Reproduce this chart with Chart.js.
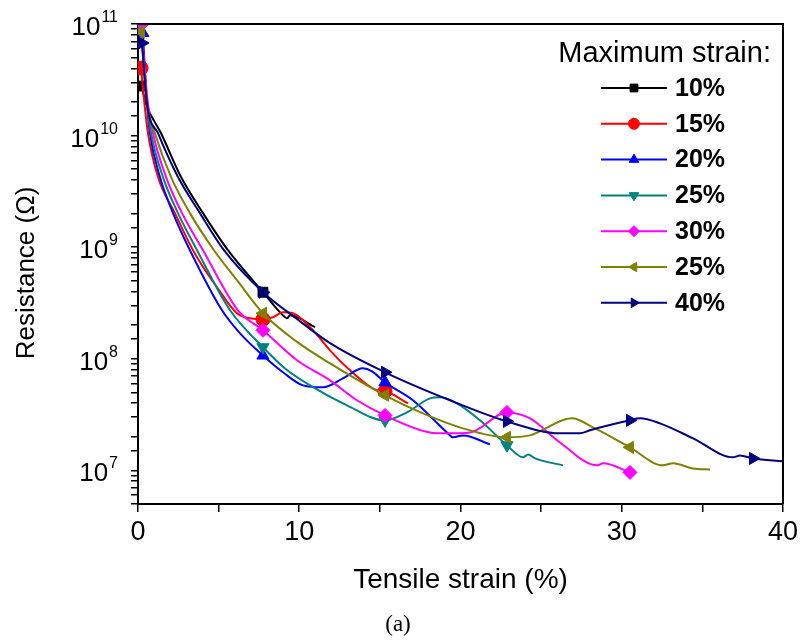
<!DOCTYPE html>
<html>
<head>
<meta charset="utf-8">
<script src="https://cdn.jsdelivr.net/npm/chart.js@4.4.0/dist/chart.umd.min.js"></script>
<style>
  html, body { margin: 0; padding: 0; background: #fff; }
  #wrap { width: 802px; height: 641px; }
</style>
</head>
<body>
<div id="wrap"><canvas id="chart" width="802" height="641"></canvas></div>
<script>
// Data (strain in %, resistance in ohm)
const strain10 = [0.22, 0.50, 1.43, 2.67, 4.03, 5.58, 7.75, 8.99, 9.24, 9.43, 10.98];
const res10    = [2.78e10, 1.92e10, 1.05e10, 4.25e9, 2.02e9, 9.4e8, 3.95e8, 2.45e8, 2.31e8, 2.45e8, 1.92e8];

const strain15 = [0.19, 0.43, 0.62, 1.24, 2.29, 3.41, 4.90, 6.33, 7.75, 8.37, 8.99, 9.61, 10.85, 11.91, 13.15, 14.82, 15.32, 16.74];
const res15    = [4.03e10, 1.76e10, 1.05e10, 4.25e9, 2.02e9, 9.4e8, 4.38e8, 2.45e8, 2.26e8, 2.36e8, 2.61e8, 2.56e8, 1.80e8, 1.19e8, 7.89e7, 5.22e7, 5.11e7, 3.99e7];

const strain20 = [0.30, 0.56, 0.74, 1.36, 2.17, 3.22, 5.21, 6.33, 7.75, 8.99, 10.23, 11.47, 12.71, 13.95, 14.51, 15.32, 17.05, 19.16, 19.53, 20.16, 21.83];
const res20    = [8.3e10, 1.92e10, 1.05e10, 4.25e9, 2.02e9, 9.4e8, 2.72e8, 1.69e8, 1.07e8, 7.57e7, 5.78e7, 5.55e7, 6.68e7, 8.22e7, 7.73e7, 6.15e7, 4.25e7, 2.19e7, 1.98e7, 2.06e7, 1.71e7];

const strain25 = [0.19, 0.56, 0.81, 1.55, 2.48, 3.66, 5.71, 7.75, 9.12, 10.67, 12.96, 15.32, 16.68, 18.11, 18.73, 19.78, 21.21, 22.88, 23.88, 24.19, 24.62, 26.36];
const res25    = [9.4e10, 1.92e10, 1.05e10, 4.25e9, 2.02e9, 9.4e8, 2.72e8, 1.27e8, 8.2e7, 5.78e7, 3.83e7, 2.81e7, 3.31e7, 4.42e7, 4.52e7, 3.99e7, 2.81e7, 1.68e7, 1.31e7, 1.39e7, 1.28e7, 1.11e7];

const strain30 = [0.19, 0.62, 0.93, 1.74, 2.73, 4.03, 6.20, 7.75, 9.86, 11.91, 13.58, 15.32, 18.11, 19.16, 20.59, 22.88, 24.31, 26.17, 28.47, 28.84, 30.51];
const res30    = [9.8e10, 1.92e10, 1.05e10, 4.25e9, 2.02e9, 9.4e8, 2.72e8, 1.80e8, 9.7e7, 6.41e7, 4.25e7, 3.11e7, 2.19e7, 2.15e7, 2.19e7, 3.31e7, 2.93e7, 1.78e7, 1.11e7, 1.16e7, 9.6e6];

const strain35 = [0.19, 0.56, 1.05, 2.05, 3.22, 4.71, 6.14, 7.75, 9.80, 11.91, 15.32, 17.67, 20.16, 22.88, 24.31, 26.91, 28.22, 30.51, 32.56, 33.18, 34.42, 35.47];
const res35    = [8.5e10, 1.92e10, 1.05e10, 4.25e9, 2.02e9, 9.4e8, 5.06e8, 2.56e8, 1.44e8, 9.1e7, 4.71e7, 3.24e7, 2.38e7, 1.98e7, 2.06e7, 2.93e7, 2.43e7, 1.61e7, 1.11e7, 1.16e7, 1.04e7, 1.02e7];

const strain40 = [0.25, 0.56, 1.24, 2.48, 3.84, 5.33, 7.75, 9.80, 11.91, 15.32, 19.35, 22.88, 26.17, 27.41, 28.03, 30.51, 31.13, 32.37, 34.42, 36.90, 37.33, 38.14, 40.0];
const res40    = [6.76e10, 1.92e10, 1.05e10, 4.25e9, 2.02e9, 9.4e8, 3.95e8, 2.31e8, 1.38e8, 7.57e7, 4.25e7, 2.75e7, 2.15e7, 2.15e7, 2.29e7, 2.81e7, 2.93e7, 2.64e7, 1.94e7, 1.31e7, 1.36e7, 1.28e7, 1.21e7];

// symbols sit on the first point and at these strains
const markerStrains = [7.75, 15.32, 22.88, 30.51, 38.14];

const seriesLabels = ['10%', '15%', '20%', '25%', '30%', '25%', '40%'];
const seriesColors = ['#000000', '#ff0000', '#0000ff', '#008080', '#ff00ff', '#808000', '#000080'];
const seriesStyles = ['rect', 'circle', 'triangle', 'triangle', 'rectRot', 'triangle', 'triangle'];
const seriesRotation = [0, 0, 0, 180, 0, 270, 90];
const strains = [strain10, strain15, strain20, strain25, strain30, strain35, strain40];
const resistances = [res10, res15, res20, res25, res30, res35, res40];

const xTicks = [0, 10, 20, 30, 40];
const yDecades = [7, 8, 9, 10, 11];

const FONT = '"Liberation Sans", Arial, sans-serif';

function isMarker(ctx) {
  if (ctx.dataIndex === 0) return true;
  return markerStrains.some(m => Math.abs(ctx.raw.x - m) < 0.03);
}

const datasets = seriesLabels.map((label, i) => ({
  label: label,
  data: strains[i].map((x, j) => ({ x: x, y: resistances[i][j] })),
  borderColor: seriesColors[i],
  backgroundColor: seriesColors[i],
  borderWidth: 2,
  cubicInterpolationMode: 'monotone',
  pointStyle: seriesStyles[i],
  rotation: seriesRotation[i],
  pointRadius: ctx => isMarker(ctx) ? 7 : 0,
  pointBorderWidth: 1,
  order: -i
}));

// frame, y labels with exponents, titles, legend
const decorations = {
  id: 'decorations',
  afterDraw(chart) {
    const { ctx, chartArea: a, scales } = chart;
    const y = scales.y;
    ctx.save();
    ctx.strokeStyle = '#000';
    ctx.lineWidth = 2;
    ctx.beginPath();
    ctx.moveTo(a.left, a.top);
    ctx.lineTo(a.right, a.top);
    ctx.lineTo(a.right, a.bottom);
    ctx.stroke();

    ctx.fillStyle = '#000';
    ctx.textAlign = 'right';
    ctx.textBaseline = 'alphabetic';
    yDecades.forEach(p => {
      const py = y.getPixelForValue(Math.pow(10, p));
      const exp = String(p);
      ctx.font = '16px ' + FONT;
      const w = ctx.measureText(exp).width;
      ctx.fillText(exp, 118, py - 2);
      ctx.font = '26px ' + FONT;
      ctx.fillText('10', 118 - w - 1, py + 11);
    });

    // axis titles
    ctx.textAlign = 'center';
    ctx.textBaseline = 'middle';
    ctx.font = '28px ' + FONT;
    ctx.fillText('Tensile strain (%)', (a.left + a.right) / 2, 580);
    ctx.save();
    ctx.translate(27, 273);
    ctx.rotate(-Math.PI / 2);
    ctx.font = '26px ' + FONT;
    ctx.fillText('Resistance (\u03A9)', 0, 0);
    ctx.restore();
    ctx.font = '23px "Liberation Serif", "DejaVu Serif", serif';
    ctx.fillText('(a)', 398, 625);

    // legend
    ctx.font = '29px ' + FONT;
    ctx.textAlign = 'right';
    ctx.textBaseline = 'alphabetic';
    ctx.fillText('Maximum strain:', 771, 62);
    ctx.textAlign = 'left';
    ctx.textBaseline = 'middle';
    chart.data.datasets.forEach((ds, i) => {
      const ry = 88 + i * 35.8;
      ctx.strokeStyle = ds.borderColor;
      ctx.fillStyle = ds.borderColor;
      ctx.lineWidth = 2;
      ctx.beginPath();
      ctx.moveTo(601, ry);
      ctx.lineTo(667, ry);
      ctx.stroke();
      ctx.lineWidth = 1;
      Chart.helpers.drawPoint(ctx, { pointStyle: ds.pointStyle, rotation: ds.rotation, radius: 5.5, borderWidth: 1 }, 634, ry);
      ctx.fillStyle = '#000';
      ctx.font = 'bold 25px ' + FONT;
      ctx.fillText(ds.label, 675, ry + 1);
    });
    ctx.restore();
  }
};

new Chart(document.getElementById('chart'), {
  type: 'line',
  data: { datasets: datasets },
  options: {
    responsive: false,
    animation: false,
    events: [],
    layout: { padding: { left: 0, right: 19, top: 24, bottom: 0 } },
    plugins: { legend: { display: false }, tooltip: { enabled: false } },
    scales: {
      x: {
        type: 'linear',
        min: 0,
        max: 40,
        afterFit: s => { s.height = 137; },
        ticks: {
          stepSize: 5,
          autoSkip: false,
          maxRotation: 0,
          padding: 4,
          color: '#000',
          font: { family: FONT, size: 27 },
          callback: v => xTicks.includes(v) ? String(v) : ''
        },
        grid: { drawOnChartArea: false, color: '#000', tickLength: 8, lineWidth: 1.5 },
        border: { color: '#000', width: 2 }
      },
      y: {
        type: 'logarithmic',
        min: 5e6,
        max: 1e11,
        afterFit: s => { s.width = 138; },
        ticks: { autoSkip: false, callback: () => '' },
        grid: { drawOnChartArea: false, color: '#000', tickLength: 7, lineWidth: 1.5 },
        border: { color: '#000', width: 2 }
      }
    }
  },
  plugins: [decorations]
});
</script>
</body>
</html>
